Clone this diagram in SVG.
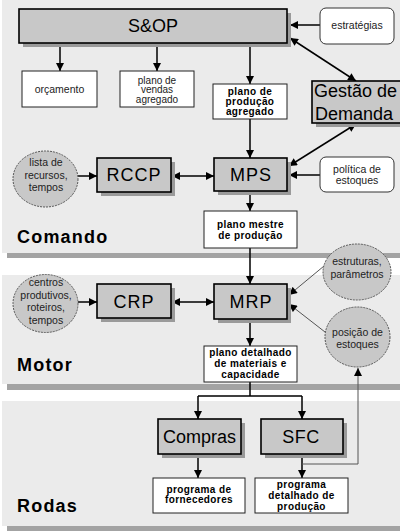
<svg xmlns="http://www.w3.org/2000/svg" width="400" height="532" viewBox="0 0 400 532">
<defs>
<marker id="ah" viewBox="0 0 10 10" refX="10" refY="5" markerWidth="9" markerHeight="8" markerUnits="userSpaceOnUse" orient="auto-start-reverse"><path d="M0,0 L10,5 L0,10 z" fill="#000"/></marker>
<style>
.panel{fill:#ebebeb}
.pshadow{fill:#a3a3a3}
.box{fill:#c8c8c8;stroke:#000;stroke-width:1.6}
.shadow{fill:#9a9a9a}
.wbox{fill:#fff;stroke:#222;stroke-width:1}
.rbox{fill:#fff;stroke:#333;stroke-width:1}
.circ{fill:#c8c8c8;stroke:#555;stroke-width:1;stroke-dasharray:2 1}
.big{font-family:"Liberation Sans",Arial,sans-serif;font-size:18px;fill:#000;text-anchor:middle}
.sm{font-family:"Liberation Sans",Arial,sans-serif;font-size:10.5px;fill:#222;text-anchor:middle}
.bd{font-family:"Liberation Sans",Arial,sans-serif;font-size:10px;font-weight:bold;fill:#000;text-anchor:middle;letter-spacing:0.4px}
.title{font-family:"Liberation Sans",Arial,sans-serif;font-size:18px;font-weight:bold;fill:#000;letter-spacing:1.2px}
.c{fill:none;stroke:#000;stroke-width:1.5}
.ca{fill:none;stroke:#000;stroke-width:1.5;marker-end:url(#ah)}
.cb{fill:none;stroke:#000;stroke-width:1.5;marker-end:url(#ah);marker-start:url(#ah)}
.ct{fill:none;stroke:#555;stroke-width:1;marker-end:url(#ah)}
</style>
</defs>
<rect width="400" height="532" fill="#fff"/>
<g id="panels">
<rect class="pshadow" x="7" y="5" width="393" height="253"/>
<rect class="panel" x="2" y="0" width="398" height="253"/>
<rect class="pshadow" x="7" y="280" width="393" height="110"/>
<rect class="panel" x="2" y="275" width="398" height="109"/>
<rect class="pshadow" x="7" y="406" width="393" height="125"/>
<rect class="panel" x="2" y="401" width="398" height="125"/>
<text class="title" x="17" y="243">Comando</text>
<text class="title" x="17" y="371">Motor</text>
<text class="title" x="17" y="512">Rodas</text>
</g>
<g id="connectors">
<path class="ca" d="M60,43 V71"/>
<path class="ca" d="M157,43 V71"/>
<path class="ca" d="M320,25 H290"/>
<path class="cb" d="M290,38 L356,81"/>
<path class="ca" d="M250,43 V84"/>
<path class="ca" d="M250,119 V158"/>
<path class="cb" d="M356,124 L289,166"/>
<path class="ca" d="M320,175 H289"/>
<path class="ca" d="M78,176 H97"/>
<path class="cb" d="M172,176 H214"/>
<path class="ca" d="M250,191 V211"/>
<path class="ca" d="M250,248 V284"/>
<path class="ca" d="M78,302 H97"/>
<path class="cb" d="M172,302 H214"/>
<path class="ct" d="M324,266 L289,295"/>
<path class="ct" d="M325,332 L289,304"/>
<path class="ca" d="M250,319 V346"/>
<path class="c" d="M250,382 V396 M198,396 H302"/>
<path class="ca" d="M198,396 V419"/>
<path class="ca" d="M302,396 V419"/>
<path class="ca" d="M198,454 V478"/>
<path class="ca" d="M302,454 V478"/>
<path class="ct" d="M302,464 H358 V368"/>
</g>
<g id="sop">
<rect class="shadow" x="23" y="13" width="268" height="34"/>
<rect class="box" x="19" y="9" width="268" height="34"/>
<text class="big" x="153" y="32">S&amp;OP</text>
</g>
<g id="orcamento">
<rect class="wbox" x="22" y="71" width="75" height="36"/>
<text class="sm" x="59.5" y="92.5">orçamento</text>
</g>
<g id="plano-vendas">
<rect class="wbox" x="120" y="71" width="74" height="36"/>
<text class="sm" x="157" y="83.5" style="font-size:10px">plano de</text>
<text class="sm" x="157" y="93" style="font-size:10px">vendas</text>
<text class="sm" x="157" y="102.5" style="font-size:10px">agregado</text>
</g>
<g id="estrategias">
<rect class="rbox" x="320" y="8" width="74" height="36" rx="6"/>
<text class="sm" x="357" y="28.5">estratégias</text>
</g>
<g id="plano-producao-agregado">
<rect class="wbox" x="213" y="84" width="74" height="35"/>
<text class="bd" x="250" y="94.5">plano de</text>
<text class="bd" x="250" y="104.5">produção</text>
<text class="bd" x="250" y="114.5">agregado</text>
</g>
<g id="gestao">
<rect class="shadow" x="316" y="85" width="90" height="42"/>
<rect class="box" x="312" y="81" width="94" height="42"/>
<text class="big" x="314" y="97" style="text-anchor:start;font-size:18px">Gestão de</text>
<text class="big" x="315" y="120" style="text-anchor:start;font-size:18px">Demanda</text>
</g>
<g id="lista">
<ellipse class="circ" cx="45.5" cy="179" rx="32.5" ry="28"/>
<text class="sm" x="46" y="166">lista de</text>
<text class="sm" x="46" y="179">recursos,</text>
<text class="sm" x="46" y="191">tempos</text>
</g>
<g id="rccp">
<rect class="shadow" x="101" y="162" width="74" height="34"/>
<rect class="box" x="97" y="158" width="74" height="34"/>
<text class="big" x="134" y="181" style="letter-spacing:1px">RCCP</text>
</g>
<g id="mps">
<rect class="shadow" x="218" y="162" width="73" height="33"/>
<rect class="box" x="214" y="158" width="73" height="33"/>
<text class="big" x="251" y="181" style="letter-spacing:1px">MPS</text>
</g>
<g id="politica">
<rect class="rbox" x="320" y="157" width="74" height="35" rx="6"/>
<text class="sm" x="357" y="172.5">política de</text>
<text class="sm" x="357" y="183.5">estoques</text>
</g>
<g id="plano-mestre">
<rect class="wbox" x="204" y="211" width="93" height="37"/>
<text class="bd" x="250.5" y="228">plano mestre</text>
<text class="bd" x="250.5" y="239">de produção</text>
</g>
<g id="centros">
<ellipse class="circ" cx="45.5" cy="303.5" rx="32.5" ry="29"/>
<text class="sm" x="46" y="286">centros</text>
<text class="sm" x="46" y="298.5">produtivos,</text>
<text class="sm" x="46" y="311">roteiros,</text>
<text class="sm" x="46" y="324">tempos</text>
</g>
<g id="crp">
<rect class="shadow" x="101" y="288" width="74" height="34"/>
<rect class="box" x="97" y="284" width="74" height="34"/>
<text class="big" x="134" y="308" style="letter-spacing:1px">CRP</text>
</g>
<g id="mrp">
<rect class="shadow" x="218" y="288" width="73" height="35"/>
<rect class="box" x="214" y="284" width="73" height="35"/>
<text class="big" x="251" y="308" style="letter-spacing:1px">MRP</text>
</g>
<g id="estruturas">
<ellipse class="circ" cx="357" cy="272" rx="34" ry="28"/>
<text class="sm" x="357" y="265">estruturas,</text>
<text class="sm" x="357" y="278">parâmetros</text>
</g>
<g id="posicao">
<ellipse class="circ" cx="357.5" cy="337" rx="32.5" ry="30"/>
<text class="sm" x="357.5" y="336">posição de</text>
<text class="sm" x="357.5" y="347.5">estoques</text>
</g>
<g id="plano-detalhado">
<rect class="wbox" x="204" y="346" width="93" height="36"/>
<text class="bd" x="250.5" y="356">plano detalhado</text>
<text class="bd" x="250.5" y="367">de materiais e</text>
<text class="bd" x="250.5" y="378">capacidade</text>
</g>
<g id="compras">
<rect class="shadow" x="162" y="423" width="83" height="35"/>
<rect class="box" x="158" y="419" width="83" height="35"/>
<text class="big" x="199.5" y="443">Compras</text>
</g>
<g id="sfc">
<rect class="shadow" x="265" y="423" width="82" height="35"/>
<rect class="box" x="261" y="419" width="82" height="35"/>
<text class="big" x="301" y="443" style="letter-spacing:0.5px">SFC</text>
</g>
<g id="programa-fornecedores">
<rect class="wbox" x="153" y="478" width="92" height="35"/>
<text class="bd" x="199" y="492.5">programa de</text>
<text class="bd" x="199" y="503">fornecedores</text>
</g>
<g id="programa-detalhado">
<rect class="wbox" x="255" y="478" width="93" height="35"/>
<text class="bd" x="301.5" y="487.5">programa</text>
<text class="bd" x="301.5" y="498.5">detalhado de</text>
<text class="bd" x="301.5" y="509.5">produção</text>
</g>
</svg>
